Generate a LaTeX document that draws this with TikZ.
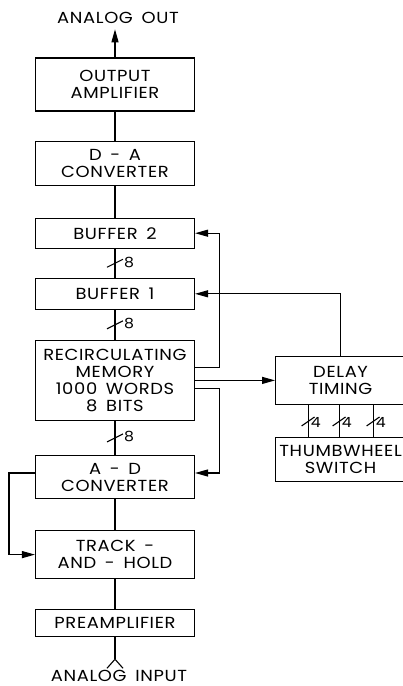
\documentclass[tikz,border=0pt]{standalone}
\usepackage{fontspec}
\setmainfont[LetterSpace=4,WordSpace=1.6,FakeStretch=1.12]{Poppins}
\usepackage{tikz}
\usetikzlibrary{arrows.meta}
\usetikzlibrary{calc}
\usetikzlibrary{positioning}

\begin{document}
\begin{tikzpicture}[
      x=1pt, y=1pt,
      font=\fontsize{16}{17}\selectfont,
      block/.style ={rectangle, draw, line width=1.1pt, align=center, minimum width=159pt, inner sep=0pt},
      side/.style  ={rectangle, draw, line width=1.1pt, align=center, minimum width=130pt, inner sep=0pt},
      link/.style  ={line width=1.1pt},
      arr/.style   ={line width=1.1pt, -{Triangle[length=13pt,width=7pt]}},
      tag/.style   ={font=\fontsize{14}{14}\selectfont, inner sep=1pt, anchor=west},
      io/.style    ={anchor=base, inner sep=0pt}
    ]
    \useasboundingbox (0,0) rectangle (403,-686);

    % main chain, top to bottom
    \node [block, minimum height=53pt] (oamp) at (115,-84.5) {OUTPUT\\AMPLIFIER} ;
    \node [block, minimum height=44pt] (dac)  [below=29pt of oamp] {D - A\\CONVERTER} ;
    \node [block, minimum height=30pt] (buf2) [below=32pt of dac]  {BUFFER 2} ;
    \node [block, minimum height=31pt] (buf1) [below=29pt of buf2] {BUFFER 1} ;
    \node [block, minimum height=80pt] (mem)  [below=30pt of buf1] {RECIRCULATING\\MEMORY\\1000 WORDS\\8 BITS} ;
    \node [block, minimum height=43pt] (adc)  [below=34pt of mem]  {A - D\\CONVERTER} ;
    \node [block, minimum height=48pt] (th)   [below=31pt of adc]  {TRACK -\\AND - HOLD} ;
    \node [block, minimum height=27pt] (pre)  [below=30pt of th]   {PREAMPLIFIER} ;

    % delay branch on the right
    \node [side, minimum height=48pt] (delay) [right=80pt of mem]   {DELAY\\TIMING} ;
    \node [side, minimum height=44pt] (thumb) [below=32pt of delay] {THUMBWHEEL\\SWITCH} ;

    \node (aout) [io] at (118,-23)  {ANALOG OUT} ;
    \node (ain)  [io] at (119,-681) {ANALOG INPUT} ;
    \coordinate (fork) at ($(pre.south)+(0,-22)$) ;

    \draw [arr]  (oamp.north) -- ([yshift=-6pt]oamp.north |- aout.south) ;
    \draw [link] (dac) -- (oamp) ;
    \draw [link] (buf2) -- (dac) ;
    \draw [link] (buf1) -- (buf2) coordinate[midway] (b12) ;
    \draw [link] (mem) -- (buf1) coordinate[midway] (bm) ;
    \draw [link] (adc) -- (mem) coordinate[midway] (am) ;
    \draw [link] (th) -- (adc) ;
    \draw [link] (pre) -- (th) ;
    \draw [link] (pre.south) -- (fork) ;
    \draw [link] (fork) -- ++(-8,-9) (fork) -- ++(8,-9) ;

    % bus widths
    \foreach \c in {b12, bm, am} {
      \draw [link] ($(\c)+(-8,-4)$) -- ($(\c)+(8,4)$) ;
      \node [tag] at ($(\c)+(8,1)$) {8} ;
    }
    \foreach \dx/\n in {-32/t1, -1/t2, 33/t3} {
      \draw [link] ([xshift=\dx pt]delay.south) -- ([xshift=\dx pt]thumb.north) coordinate[midway] (\n) ;
      \draw [link] ($(\n)+(-7,-5)$) -- ($(\n)+(6,4)$) ;
      \node [tag] at ($(\n)+(1,-2)$) {4} ;
    }

    % loops
    \draw [arr] ([yshift=13pt]mem.east) -- ++(24,0) |- (buf2.east) ;
    \draw [arr] (mem.east) -- (mem.east -| delay.west) ;
    \draw [arr] ([yshift=-8pt]mem.east) -- ++(24,0) |- ([yshift=4pt]adc.east) ;
    \draw [arr] (delay.north) |- (buf1.east) ;
    \draw [arr] ([yshift=4pt]adc.west) -- ++(-26,0) |- (th.west) ;
  \end{tikzpicture}
\end{document}
